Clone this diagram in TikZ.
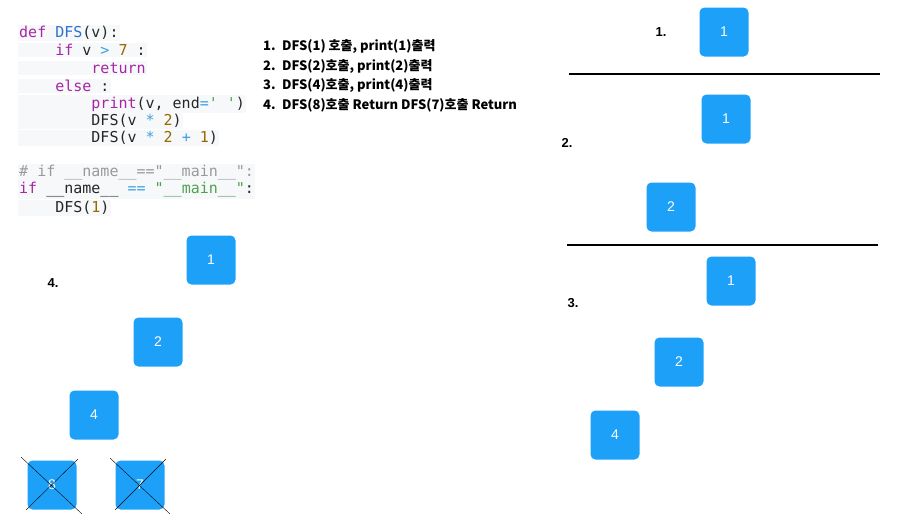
\documentclass[tikz,border=0pt]{standalone}
\usepackage{fontspec}
\setmainfont{Liberation Sans}
\setmonofont{DejaVu Sans Mono}
\newfontfamily\cjk{Noto Sans CJK KR}
\usetikzlibrary{positioning, calc}
\definecolor{boxblue}{HTML}{1DA1F8}
\definecolor{kwpurple}{HTML}{A626A4}
\definecolor{fnblue}{HTML}{2F6FD0}
\definecolor{numbrown}{HTML}{986801}
\definecolor{opblue}{HTML}{3FA0E0}
\definecolor{strgreen}{HTML}{50A14F}
\definecolor{cmgray}{HTML}{9A9A9A}
\definecolor{codebg}{HTML}{F6F8FA}
\newcommand{\kw}[1]{\textcolor{kwpurple}{#1}}
\newcommand{\fn}[1]{\textcolor{fnblue}{#1}}
\newcommand{\nm}[1]{\textcolor{numbrown}{#1}}
\newcommand{\op}[1]{\textcolor{opblue}{#1}}
\begin{document}
\begin{tikzpicture}[
        x=1pt, y=-1pt,
        every node/.style={inner sep=0pt},
        tbox/.style={fill=boxblue, rounded corners=5pt, minimum width=49pt, minimum height=49pt, text=white, font=\fontsize{14}{14}\selectfont},
        code/.style={anchor=west, fill=codebg, inner xsep=1pt, inner ysep=1.5pt, font=\ttfamily\fontsize{15}{15}\selectfont, text=black!85},
        stepline/.style={anchor=west, font=\cjk\bfseries\fontsize{13}{13}\selectfont},
        lbl/.style={font=\bfseries\fontsize{13}{13}\selectfont},
        rule/.style={line width=1.2pt}
    ]
    \useasboundingbox (0,0) rectangle (906,525);

    % Quellcode
    \node[code] (c1) at (18,33) {\kw{def} \fn{DFS}(v):};
    \node[code] (c2) at (18,50) {\phantom{xxxx}\kw{if} v \op{>} \nm{7} :};
    \node[code] (c3) at (18,68) {\phantom{xxxxxxxx}\kw{return}};
    \node[code] (c4) at (18,86) {\phantom{xxxx}\kw{else} :};
    \node[code] (c5) at (18,104) {\phantom{xxxxxxxx}\kw{print}(v, end\op{=}\textcolor{strgreen}{' '})};
    \node[code] (c6) at (18,121) {\phantom{xxxxxxxx}DFS(v \op{*} \nm{2})};
    \node[code] (c7) at (18,138) {\phantom{xxxxxxxx}DFS(v \op{*} \nm{2} \op{+} \nm{1})};
    \node[code, text=cmgray] (c8) at (18,173) {\# if \_\_name\_\_=="\_\_main\_\_":};
    \node[code] (c9) at (18,190) {\kw{if} \_\_name\_\_ \op{==} \textcolor{strgreen}{"\_\_main\_\_"}:};
    \node[code] (c10) at (18,208) {\phantom{xxxx}DFS(\nm{1})};

    % Ablauf
    \node[stepline] (s1) at (263,46) {1.\enspace DFS(1) 호출, print(1)출력};
    \node[stepline] (s2) at (263,66) {2.\enspace DFS(2)호출, print(2)출력};
    \node[stepline] (s3) at (263,85) {3.\enspace DFS(4)호출, print(4)출력};
    \node[stepline] (s4) at (263,105) {4.\enspace DFS(8)호출 Return DFS(7)호출 Return};

    % Schritt 4 (links)
    \node[lbl] (l4) at (53,283) {4.};
    \node[tbox] (a1) at (211,260) {1};
    \node[tbox] (a2) at (158,342) {2};
    \node[tbox] (a4) at (94,415) {4};
    \node[tbox] (a8) at (52,485) {8};
    \node[tbox] (a7) at (140,485) {7};
    \draw ($(a8.north west)+(-6,-3)$) -- ($(a8.south east)+(5,4)$);
    \draw ($(a8.south west)+(-1,0)$) -- ($(a8.north east)+(1,-1)$);
    \draw ($(a7.north west)+(-5,-2)$) -- ($(a7.south east)+(5,4)$);
    \draw (a7.south west) -- ($(a7.north east)+(1,-1)$);

    % Schritt 1
    \node[lbl] (l1) at (661,32) {1.};
    \node[tbox] (b1) at (724,32) {1};
    \draw[rule] (569,74) -- (880,74);

    % Schritt 2
    \node[lbl] (l2) at (567,143) {2.};
    \node[tbox] (d1) at (726,119) {1};
    \node[tbox] (d2) at (671,207) {2};
    \draw[rule] (567,245) -- (878,245);

    % Schritt 3
    \node[lbl] (l3) at (573,303) {3.};
    \node[tbox] (e1) at (731,281) {1};
    \node[tbox] (e2) at (679,362) {2};
    \node[tbox] (e4) at (615,435) {4};
\end{tikzpicture}
\end{document}
